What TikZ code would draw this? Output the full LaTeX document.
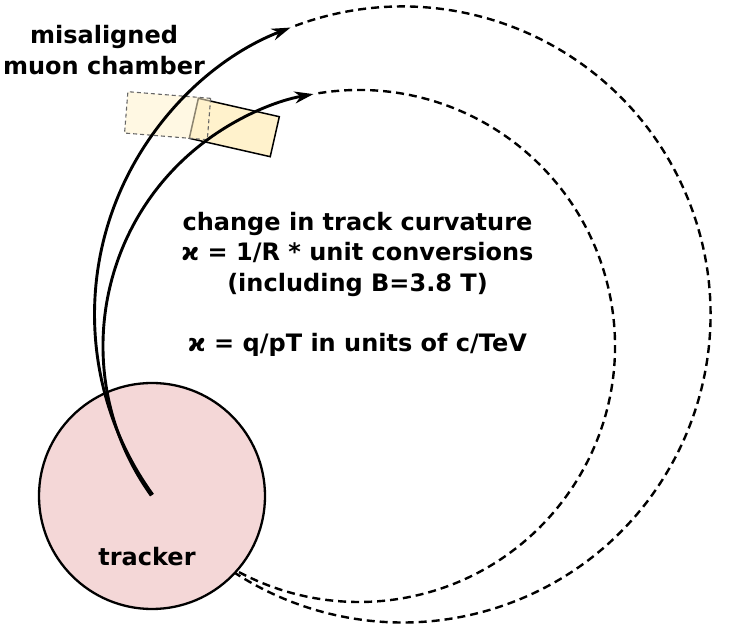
\documentclass[tikz,border=0pt]{standalone}
\usepackage{fontspec}
\setmainfont{DejaVu Sans}
\usetikzlibrary{arrows.meta}
\definecolor{trackerfill}{HTML}{F4D7D7}
\definecolor{chamberfill}{HTML}{FFF2CC}
\definecolor{ghostline}{HTML}{666666}
\tikzset{
  track/.style={line width=2.9pt, -{Stealth[length=19pt,width=12pt,inset=6pt]}},
  extrap/.style={line width=2.4pt, dash pattern=on 8pt off 5pt, dash phase=8pt},
  trackerstyle/.style={circle, draw=black, line width=2.3pt, fill=trackerfill, minimum size=226pt, inner sep=0pt},
  chamberbox/.style={draw=black, line width=1.5pt, fill=chamberfill, inner sep=0pt, minimum width=83pt, minimum height=41pt},
  ghostbox/.style={draw=ghostline, line width=1.1pt, dash pattern=on 4pt off 3pt, fill=chamberfill, fill opacity=0.55, draw opacity=1, inner sep=0pt, minimum width=83pt, minimum height=41.5pt},
  lbl/.style={font=\fontsize{24}{31}\selectfont\bfseries, align=center, inner sep=0pt},
}
\begin{document}
\begin{tikzpicture}[x=1pt,y=1pt]
\useasboundingbox (0,0) rectangle (733,634);
% centres of the two track circles
\coordinate (oc) at (402.5,319.5);
\coordinate (ic) at (359,288);
% extrapolated (dashed) parts
\draw[extrap] (oc) ++(111.3:308) arc[start angle=111.3, end angle=-144.2, radius=308];
\draw[extrap] (ic) ++(100.25:256) arc[start angle=100.25, end angle=-144.25, radius=256];
% tracker
\node[trackerstyle] (tracker) at (152,138) {};
\node[lbl] (trackerlbl) at (147,77) {tracker};
% chambers
\node[chamberbox, rotate=-12.8] (chamber) at (234.3,506.5) {};
\node[ghostbox, rotate=-4.6] (ghost) at (167.6,518.3) {};
% tracks
\draw[track] (oc) ++(215.8:308) arc[start angle=215.8, end angle=111.3, radius=308];
\draw[track] (ic) ++(215.75:256) arc[start angle=215.75, end angle=100.25, radius=256];
% labels
\node[lbl] (mis) at (104,584) {misaligned\\muon chamber};
\node[lbl, anchor=base] (l1) at (357.5,403) {change in track curvature};
\node[lbl, anchor=base] (l2) at (357.5,373) {ϰ = 1/R * unit conversions};
\node[lbl, anchor=base] (l3) at (357.5,342) {(including B=3.8 T)};
\node[lbl, anchor=base] (l4) at (357.5,282) {ϰ = q/pT in units of c/TeV};
\end{tikzpicture}
\end{document}
